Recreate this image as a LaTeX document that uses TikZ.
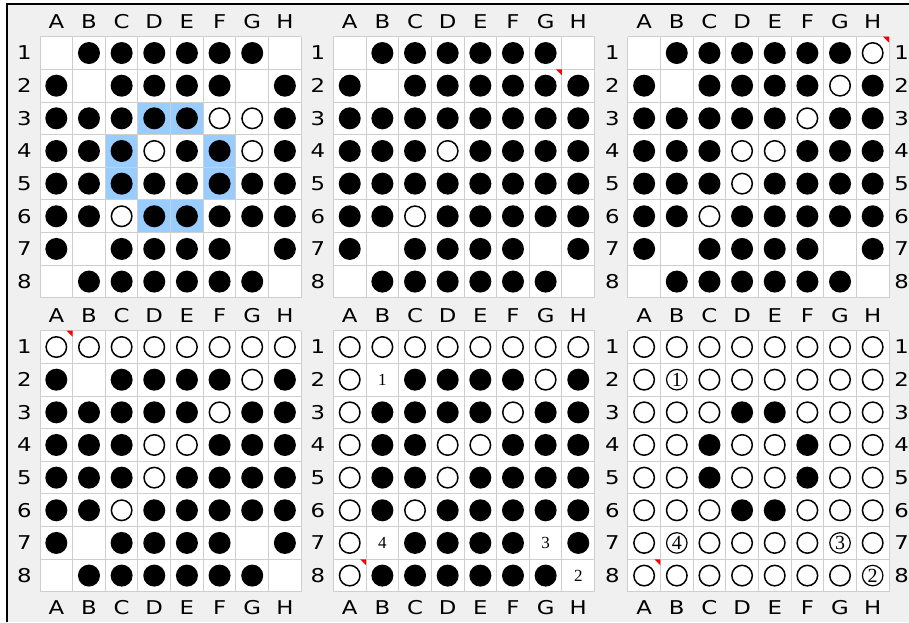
\documentclass[tikz,border=0pt]{standalone}
\usepackage{fontspec}
\newfontfamily\lblfont{DejaVu Sans}[FakeStretch=1.2]
\newfontfamily\numfont{Liberation Serif}
\definecolor{panelbg}{RGB}{240,240,240}
\definecolor{gridc}{RGB}{206,206,206}
\definecolor{hilite}{RGB}{153,204,255}
\def\cs{32.65}
\tikzset{
  frameline/.style={draw=black, line width=1.3pt},
  gridline/.style={draw=gridc, line width=1pt},
  bstone/.style={circle, fill=black, minimum size=22pt, inner sep=0pt},
  wstone/.style={circle, draw=black, line width=1.5pt, fill=white, minimum size=20.5pt, inner sep=0pt},
  st b/.style={bstone, node contents={}},
  st w/.style={wstone, node contents={}},
  st e/.style={shape=coordinate, node contents={}},
  numtxt/.style={font=\numfont\fontsize{17}{17}\selectfont, inner sep=0pt},
  st n1/.style={numtxt, node contents=1},
  st n2/.style={numtxt, node contents=2},
  st n3/.style={numtxt, node contents=3},
  st n4/.style={numtxt, node contents=4},
  circnum/.style={wstone, line width=1.2pt, font=\numfont\fontsize{20}{20}\selectfont},
  st c1/.style={circnum, node contents=1},
  st c2/.style={circnum, node contents=2},
  st c3/.style={circnum, node contents=3},
  st c4/.style={circnum, node contents=4},
  lbl/.style={font=\lblfont\fontsize{19}{19}\selectfont, inner sep=0pt, text height=13.8pt, text depth=0pt, anchor=center},
  flagmark/.style={fill=red},
  hicell/.style={fill=hilite}
}
% white board area
\newcommand\othbase[2]{\fill[white] (#1,#2) rectangle ({#1+8*\cs},{#2+8*\cs});}
% grid lines
\newcommand\othgrid[2]{%
  \foreach \i in {0,...,8}{
    \draw[gridline] ({#1+\i*\cs},#2) -- ({#1+\i*\cs},{#2+8*\cs});
    \draw[gridline] (#1,{#2+\i*\cs}) -- ({#1+8*\cs},{#2+\i*\cs});
  }}
% highlighted cell: x0, y0, col, row
\newcommand\othcell[4]{\fill[hicell] ({#1+(#3-1)*\cs},{#2+(#4-1)*\cs}) rectangle ({#1+#3*\cs},{#2+#4*\cs});}
% red corner mark at top right of a cell
\newcommand\othflag[4]{\fill[flagmark] ({#1+#3*\cs-6},{#2+(#4-1)*\cs}) -- ({#1+#3*\cs},{#2+(#4-1)*\cs}) -- ({#1+#3*\cs},{#2+(#4-1)*\cs+6}) -- cycle;}
% stones: id, x0, y0, rows
\newcommand\othstones[4]{%
  \foreach \rowlist [count=\r] in {#4}{
    \foreach \t [count=\k] in \rowlist{
      \node (#1-\k-\r) at ({#2+(\k-0.5)*\cs},{#3+(\r-0.5)*\cs}) [st \t];
    }
  }}
% labels: top letters and left numbers
\newcommand\othlabels[3]{%
  \foreach \L [count=\k] in {A,B,C,D,E,F,G,H}{
    \node[lbl] (#1-top-\k) at ({#2+(\k-0.5)*\cs},{#3-15}) {\L};
  }
  \foreach \n in {1,...,8}{
    \node[lbl] (#1-left-\n) at ({#2-15.5},{#3+(\n-0.5)*\cs}) {\n};
  }}
\newcommand\othbottom[3]{%
  \foreach \L [count=\k] in {A,B,C,D,E,F,G,H}{
    \node[lbl] (#1-bot-\k) at ({#2+(\k-0.5)*\cs},{#3+8*\cs+16}) {\L};
  }}
\newcommand\othright[3]{%
  \foreach \n in {1,...,8}{
    \node[lbl] (#1-right-\n) at ({#2+8*\cs+12.5},{#3+(\n-0.5)*\cs}) {\n};
  }}
\begin{document}
\begin{tikzpicture}[x=1pt,y=-1pt]
\useasboundingbox (0,0) rectangle (909,622);
\fill[white] (0,0) rectangle (909,622);
\fill[panelbg] (7,4) rectangle (909,622);
\draw[frameline] (909,4) -- (7,4) -- (7,622);

% ---------- board 1 ----------
\othbase{40}{36.7}
\foreach \c/\r in {4/3,5/3,3/4,6/4,3/5,6/5,4/6,5/6}{\othcell{40}{36.7}{\c}{\r}}
\othgrid{40}{36.7}
\othstones{bA}{40}{36.7}{
 {e,b,b,b,b,b,b,e},
 {b,e,b,b,b,b,e,b},
 {b,b,b,b,b,w,w,b},
 {b,b,b,w,b,b,w,b},
 {b,b,b,b,b,b,b,b},
 {b,b,w,b,b,b,b,b},
 {b,e,b,b,b,b,e,b},
 {e,b,b,b,b,b,b,e}}
\othlabels{bA}{40}{36.7}

% ---------- board 2 ----------
\othbase{333.4}{36.7}
\othgrid{333.4}{36.7}
\othflag{333.4}{36.7}{7}{2}
\othstones{bB}{333.4}{36.7}{
 {e,b,b,b,b,b,b,e},
 {b,e,b,b,b,b,b,b},
 {b,b,b,b,b,b,b,b},
 {b,b,b,w,b,b,b,b},
 {b,b,b,b,b,b,b,b},
 {b,b,w,b,b,b,b,b},
 {b,e,b,b,b,b,e,b},
 {e,b,b,b,b,b,b,e}}
\othlabels{bB}{333.4}{36.7}

% ---------- board 3 ----------
\othbase{627.8}{36.7}
\othgrid{627.8}{36.7}
\othflag{627.8}{36.7}{8}{1}
\othstones{bC}{627.8}{36.7}{
 {e,b,b,b,b,b,b,w},
 {b,e,b,b,b,b,w,b},
 {b,b,b,b,b,w,b,b},
 {b,b,b,w,w,b,b,b},
 {b,b,b,w,b,b,b,b},
 {b,b,w,b,b,b,b,b},
 {b,e,b,b,b,b,e,b},
 {e,b,b,b,b,b,b,e}}
\othlabels{bC}{627.8}{36.7}
\othright{bC}{627.8}{36.7}

% ---------- board 4 ----------
\othbase{40}{330.7}
\othgrid{40}{330.7}
\othflag{40}{330.7}{1}{1}
\othstones{bD}{40}{330.7}{
 {w,w,w,w,w,w,w,w},
 {b,e,b,b,b,b,w,b},
 {b,b,b,b,b,w,b,b},
 {b,b,b,w,w,b,b,b},
 {b,b,b,w,b,b,b,b},
 {b,b,w,b,b,b,b,b},
 {b,e,b,b,b,b,e,b},
 {e,b,b,b,b,b,b,e}}
\othlabels{bD}{40}{330.7}
\othbottom{bD}{40}{330.7}

% ---------- board 5 ----------
\othbase{333.4}{330.7}
\othgrid{333.4}{330.7}
\othflag{333.4}{330.7}{1}{8}
\othstones{bE}{333.4}{330.7}{
 {w,w,w,w,w,w,w,w},
 {w,n1,b,b,b,b,w,b},
 {w,b,b,b,b,w,b,b},
 {w,b,b,w,w,b,b,b},
 {w,b,b,w,b,b,b,b},
 {w,b,w,b,b,b,b,b},
 {w,n4,b,b,b,b,n3,b},
 {w,b,b,b,b,b,b,n2}}
\othlabels{bE}{333.4}{330.7}
\othbottom{bE}{333.4}{330.7}

% ---------- board 6 ----------
\othbase{627.8}{330.7}
\othgrid{627.8}{330.7}
\othflag{627.8}{330.7}{1}{8}
\othstones{bF}{627.8}{330.7}{
 {w,w,w,w,w,w,w,w},
 {w,c1,w,w,w,w,w,w},
 {w,w,w,b,b,w,w,w},
 {w,w,b,w,w,b,w,w},
 {w,w,b,w,w,b,w,w},
 {w,w,w,b,b,w,w,w},
 {w,c4,w,w,w,w,c3,w},
 {w,w,w,w,w,w,w,c2}}
\othlabels{bF}{627.8}{330.7}
\othbottom{bF}{627.8}{330.7}
\othright{bF}{627.8}{330.7}
\end{tikzpicture}
\end{document}
